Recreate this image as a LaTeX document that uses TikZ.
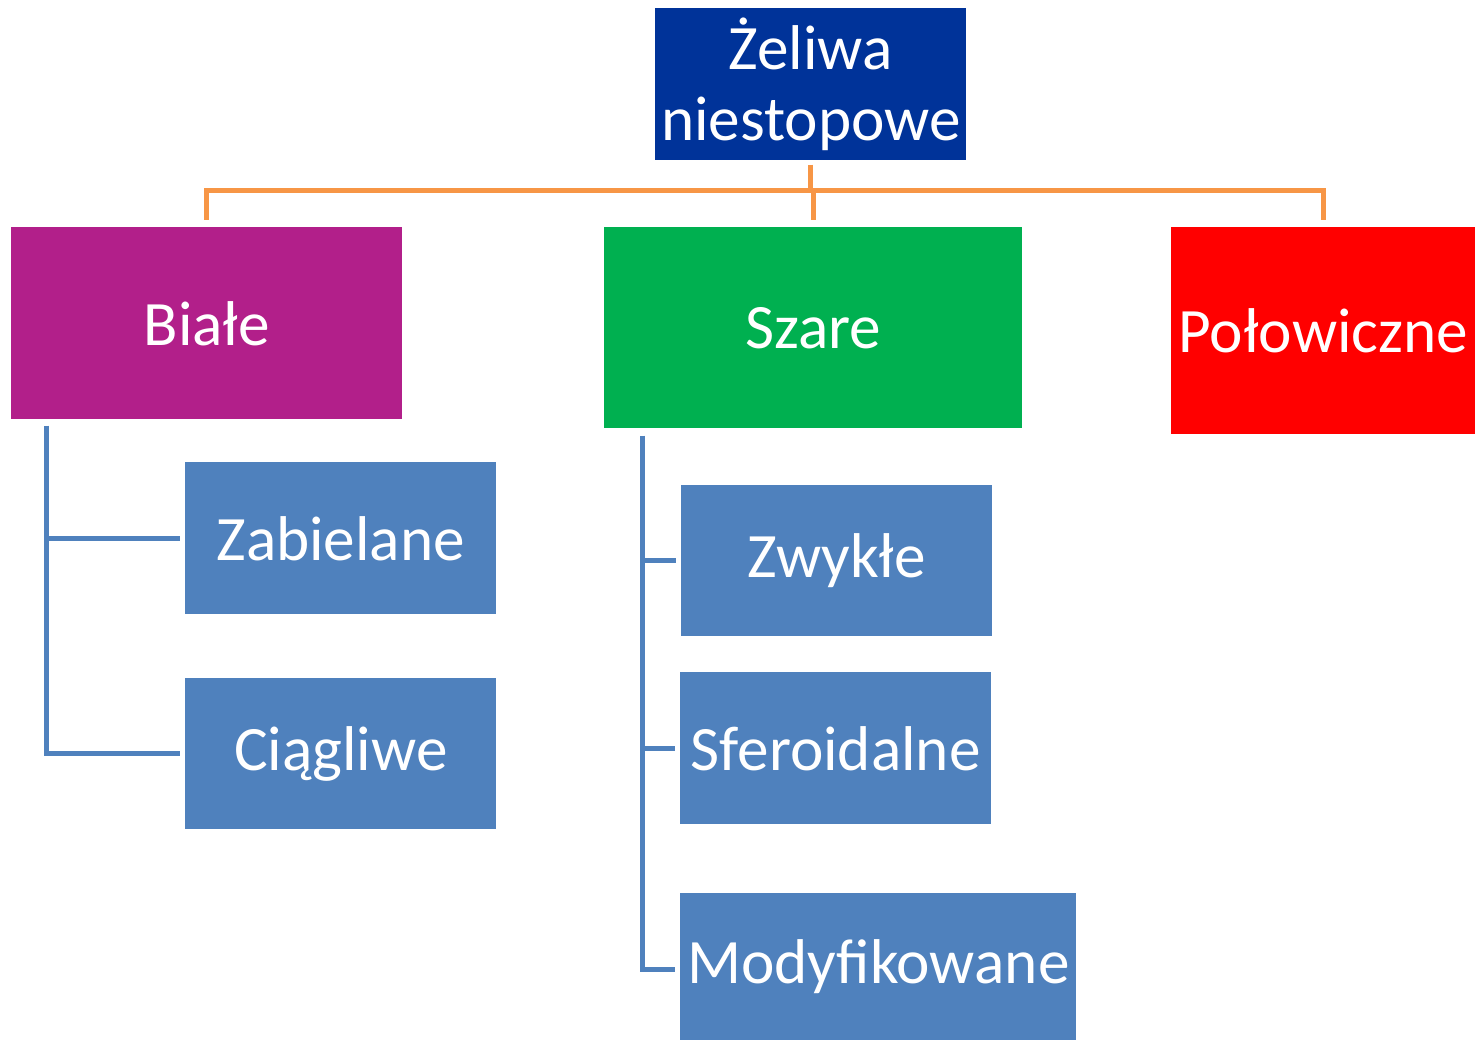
\documentclass[tikz,border=0pt]{standalone}
\usepackage{fontspec}
\setmainfont{Carlito}
\usetikzlibrary{positioning}

\definecolor{zelblue}{HTML}{003399}
\definecolor{bialepurple}{HTML}{B21F8A}
\definecolor{szaregreen}{HTML}{00B050}
\definecolor{polowred}{HTML}{FF0000}
\definecolor{subblue}{HTML}{4F81BD}
\definecolor{busorange}{HTML}{F79646}

\tikzset{
  box/.style={anchor=north west,inner sep=0pt,text=white,align=center,
    font=\fontsize{36}{40}\selectfont},
  subbox/.style={box,fill=subblue},
  bus/.style={draw=busorange,line width=0.1cm},
  stem/.style={draw=subblue,line width=0.1cm}
}

\begin{document}
\begin{tikzpicture}[x=0.02cm,y=-0.02cm]
  \useasboundingbox (0,0) rectangle (1475,1042);
  \node[box,fill=zelblue,minimum width=6.22cm,minimum height=3.04cm] (zel) at (655,8) {Żeliwa\\niestopowe};
  \node[box,fill=bialepurple,minimum width=7.82cm,minimum height=3.84cm] (biale) at (11,227) {Białe};
  \node[box,fill=szaregreen,minimum width=8.36cm,minimum height=4.02cm] (szare) at (604,227) {Szare};
  \node[box,fill=polowred,minimum width=6.08cm,minimum height=4.14cm] (polow) at (1171,227) {Połowiczne};
  \node[subbox,minimum width=6.22cm,minimum height=3.04cm] (zabiel) at (185,462) {Zabielane};
  \node[subbox,minimum width=6.22cm,minimum height=3.02cm] (ciag) at (185,678) {Ciągliwe};
  \node[subbox,minimum width=6.22cm,minimum height=3.02cm] (zwykle) at (681,485) {Zwykłe};
  \node[subbox,minimum width=6.22cm,minimum height=3.04cm] (sfero) at (680,672) {Sferoidalne};
  \node[subbox,minimum width=7.92cm,minimum height=2.94cm] (modyf) at (680,893) {Modyfikowane};
  % orange bus
  \coordinate (junction) at (810,190);
  \draw[bus,shorten <=0.08cm] (zel.south) -- (zel.south |- junction);
  \draw[bus,shorten >=0.14cm] (junction) -| (biale.north);
  \draw[bus,shorten >=0.14cm] (junction) -| (polow.north);
  \draw[bus,shorten >=0.14cm] ([xshift=0.06cm]zel.south |- junction) -- ([xshift=0.06cm]zel.south |- szare.north);
  % stems
  \draw[stem] ([xshift=0.72cm,yshift=-0.12cm]biale.south west) |- ([xshift=-0.1cm]ciag.west);
  \draw[stem] ([xshift=0.72cm]biale.south west |- zabiel.west) -- ([xshift=-0.1cm]zabiel.west);
  \draw[stem] ([xshift=0.78cm,yshift=-0.14cm]szare.south west) |- ([xshift=-0.1cm,yshift=-0.05cm]modyf.west);
  \draw[stem] ([xshift=0.78cm]szare.south west |- zwykle.west) -- ([xshift=-0.1cm]zwykle.west);
  \draw[stem] ([xshift=0.78cm]szare.south west |- sfero.west) -- ([xshift=-0.1cm]sfero.west);
\end{tikzpicture}
\end{document}
